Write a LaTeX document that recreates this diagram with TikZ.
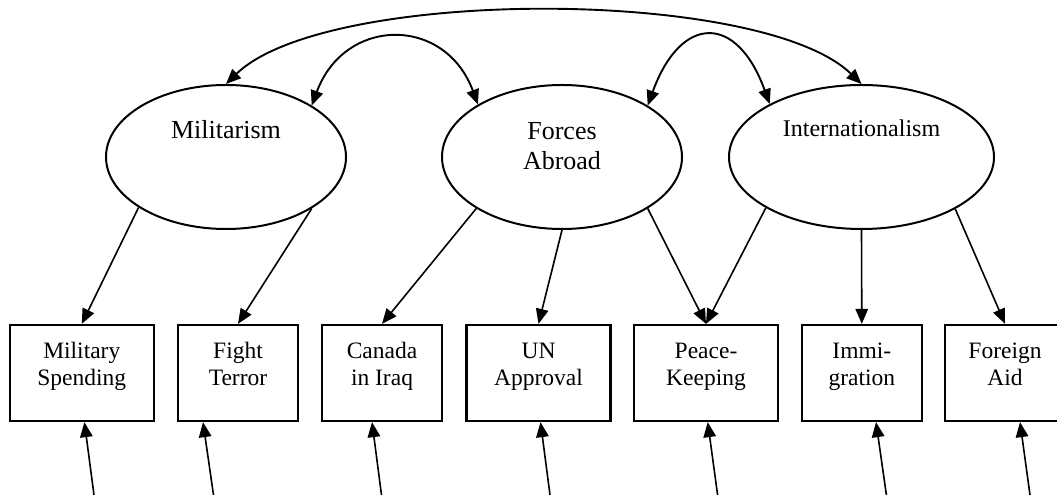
\documentclass[tikz,border=0pt]{standalone}
\usepackage{fontspec}
\setmainfont{Liberation Serif}
\usetikzlibrary{shapes.geometric,arrows.meta}
\begin{document}
\begin{tikzpicture}[x=1pt,y=1pt,
  lat/.style={ellipse, draw, line width=2pt, inner sep=0pt, minimum height=144pt},
  obs/.style={rectangle, draw, line width=2.3pt, inner sep=0pt, minimum height=96pt},
  lattext/.style={inner sep=0pt, align=center, font=\fontsize{26}{30}\selectfont},
  obstext/.style={inner sep=0pt, align=center, font=\fontsize{23.5}{27.7}\selectfont},
  load/.style={-{Triangle[length=15pt,width=12.5pt]}, line width=1.6pt},
  cov/.style={{Triangle[length=15pt,width=12.5pt]}-{Triangle[length=15pt,width=12.5pt]}, line width=1.9pt}
]
\useasboundingbox (0,0) rectangle (1057,495);

% latent variables
\node[lat, minimum width=240pt] (mil) at (226,338) {};
\node[lat, minimum width=240pt] (frc) at (562,338) {};
\node[lat, minimum width=265pt] (int) at (861.5,338) {};
\node[lattext, anchor=base] (milt) at (226,356) {Militarism};
\node[lattext, anchor=north] (frct) at (562,378) {\rule{0pt}{22pt}Forces\\Abroad};
\node[lattext, anchor=base, font=\fontsize{24}{28}\selectfont] (intt) at (861.5,358) {Internationalism};

% observed variables
\node[obs, minimum width=144pt] (ms) at (81.8,122) {};
\node[obs, minimum width=120pt] (ft) at (238,122) {};
\node[obs, minimum width=120pt] (ci) at (382,122) {};
\node[obs, minimum width=144pt] (un) at (538.5,122) {};
\node[obs, minimum width=144pt] (pk) at (706,122) {};
\node[obs, minimum width=120pt] (im) at (861.8,122) {};
\node[obs, minimum width=120pt] (fg) at (1005,122) {};

\node[obstext, anchor=north] (mst) at ([yshift=-14pt]ms.north) {\rule{0pt}{20pt}Military\\Spending};
\node[obstext, anchor=north] (ftt) at ([yshift=-14pt]ft.north) {\rule{0pt}{20pt}Fight\\Terror};
\node[obstext, anchor=north] (cit) at ([yshift=-14pt]ci.north) {\rule{0pt}{20pt}Canada\\in Iraq};
\node[obstext, anchor=north] (unt) at ([yshift=-14pt]un.north) {\rule{0pt}{20pt}UN\\Approval};
\node[obstext, anchor=north] (pkt) at ([yshift=-14pt]pk.north) {\rule{0pt}{20pt}Peace-\\Keeping};
\node[obstext, anchor=north] (imt) at ([yshift=-14pt]im.north) {\rule{0pt}{20pt}Immi-\\gration};
\node[obstext, anchor=north] (fgt) at ([yshift=-14pt]fg.north) {\rule{0pt}{20pt}Foreign\\Aid};

% covariances
\draw[cov] (mil.31.6) .. controls +(33,89) and +(-33,89) .. (frc.148.4);
\draw[cov] (frc.31.5) .. controls +(33,91) and +(-33,91) .. (int.150.9);
\draw[cov] (mil.north) .. controls +(100,97) and +(-100,97) .. (int.north);

% loadings
\draw[load] (mil.210.5) -- (ms.north);
\draw[load] (mil.329.2) -- (ft.north);
\draw[load] (frc.211) -- (ci.north);
\draw[load] (frc.south) -- (un.north);
\draw[load] (frc.329) -- (pk.north);
\draw[load] (int.208.4) -- (pk.north);
\draw[load] (int.south) -- (im.north);
\draw[load] (int.331.6) -- (fg.north);

% error terms
\coordinate (e1) at (94,0);
\coordinate (e2) at (213.5,0);
\coordinate (e3) at (381.5,0);
\coordinate (e4) at (550,0);
\coordinate (e5) at (717.6,0);
\coordinate (e6) at (886.4,0);
\coordinate (e7) at (1030,0);
\draw[load] (e1) -- ([xshift=2.6pt]ms.south);
\draw[load] (e2) -- ([xshift=-35pt]ft.south);
\draw[load] (e3) -- ([xshift=-10pt]ci.south);
\draw[load] (e4) -- ([xshift=2pt]un.south);
\draw[load] (e5) -- ([xshift=1.7pt]pk.south);
\draw[load] (e6) -- ([xshift=14.2pt]im.south);
\draw[load] (e7) -- ([xshift=15pt]fg.south);
\end{tikzpicture}
\end{document}
